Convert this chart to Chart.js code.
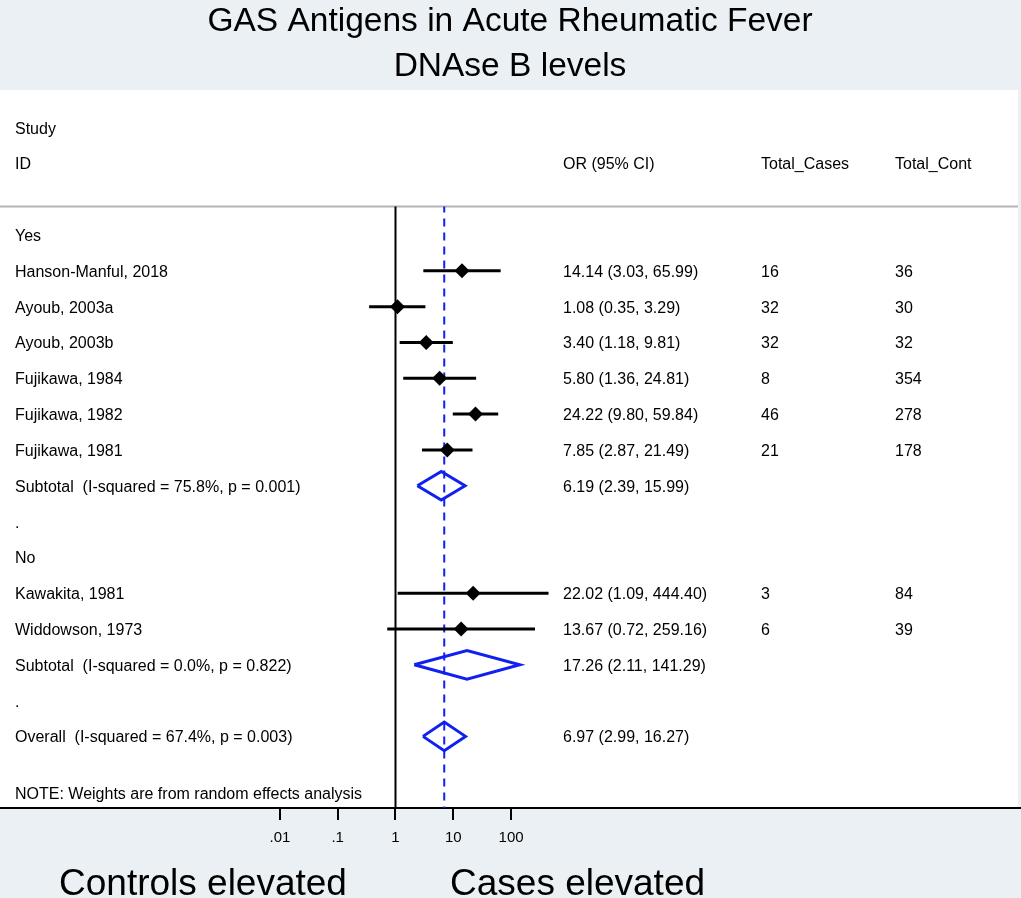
<!DOCTYPE html>
<html>
<head>
<meta charset="utf-8">
<title>GAS Antigens in Acute Rheumatic Fever - DNAse B levels</title>
<script src="https://cdn.jsdelivr.net/npm/chart.js@4/dist/chart.umd.min.js"></script>
<style>
  html, body { margin: 0; padding: 0; background: #eaf0f3; }
  #wrap { width: 1021px; height: 898px; }
</style>
</head>
<body>
<div id="wrap"><canvas id="forest" width="1021" height="898"></canvas></div>
<script>
    "use strict";

    // Studies (rows counted from the "Yes" group heading = 0)
    const studies = ['Hanson-Manful, 2018', 'Ayoub, 2003a', 'Ayoub, 2003b', 'Fujikawa, 1984',
        'Fujikawa, 1982', 'Fujikawa, 1981', 'Kawakita, 1981', 'Widdowson, 1973'];
    const studyRows = [1, 2, 3, 4, 5, 6, 10, 11];
    const oddsRatio = [14.14, 1.08, 3.40, 5.80, 24.22, 7.85, 22.02, 13.67];
    const ciLow = [3.03, 0.35, 1.18, 1.36, 9.80, 2.87, 1.09, 0.72];
    const ciHigh = [65.99, 3.29, 9.81, 24.81, 59.84, 21.49, 444.40, 259.16];
    const totalCases = [16, 32, 32, 8, 46, 21, 3, 6];
    const totalControls = [36, 30, 32, 354, 278, 178, 84, 39];

    // Pooled estimates (subtotals + overall)
    const pooledLabels = ['Subtotal  (I-squared = 75.8%, p = 0.001)',
        'Subtotal  (I-squared = 0.0%, p = 0.822)',
        'Overall  (I-squared = 67.4%, p = 0.003)'];
    const pooledRows = [7, 12, 14];
    const pooledOr = [6.19, 17.26, 6.97];
    const pooledLow = [2.39, 2.11, 2.99];
    const pooledHigh = [15.99, 141.29, 16.27];

    // Group headings and spacer rows
    const groupLabels = ['Yes', '.', 'No', '.'];
    const groupRows = [0, 8, 9, 13];

    // Axis ticks
    const tickValues = [0.01, 0.1, 1, 10, 100];
    const tickLabels = ['.01', '.1', '1', '10', '100'];

    const FONT = '"Liberation Sans", Arial, Helvetica, sans-serif';
    const BG = '#eaf0f3';
    const BLUE = '#1020f0';

    function fmt(v) { return v.toFixed(2); }

    let datasets = [];

    // point estimates (drawn on top, so first)
    datasets.push({
        type: 'scatter',
        data: oddsRatio.map((v, i) => ({ x: v, y: studyRows[i] })),
        pointStyle: 'rectRot',
        pointRadius: 7.5,
        pointBackgroundColor: '#000',
        pointBorderColor: '#000',
        pointBorderWidth: 0
    });

    // confidence interval lines
    studies.forEach(function (s, i) {
        datasets.push({
            type: 'line',
            data: [{ x: ciLow[i], y: studyRows[i] }, { x: ciHigh[i], y: studyRows[i] }],
            borderColor: '#000',
            borderWidth: 3,
            pointRadius: 0
        });
    });

    // pooled diamonds
    const halfH = 0.4;
    pooledOr.forEach(function (v, i) {
        let r = pooledRows[i];
        datasets.push({
            type: 'line',
            data: [
                { x: pooledLow[i], y: r },
                { x: v, y: r - halfH },
                { x: pooledHigh[i], y: r },
                { x: v, y: r + halfH },
                { x: pooledLow[i], y: r }
            ],
            borderColor: BLUE,
            borderWidth: 3,
            borderJoinStyle: 'miter',
            pointRadius: 0,
            tension: 0
        });
    });

    const lineTop = -0.8;   // just below the column headers
    const lineBottom = 16;

    // overall effect (dashed)
    datasets.push({
        type: 'line',
        data: [{ x: pooledOr[2], y: lineTop }, { x: pooledOr[2], y: lineBottom }],
        borderColor: BLUE,
        borderWidth: 2,
        borderDash: [8, 6],
        borderDashOffset: 2,
        pointRadius: 0
    });

    // line of no effect
    datasets.push({
        type: 'line',
        data: [{ x: 1, y: lineTop }, { x: 1, y: lineBottom }],
        borderColor: '#000',
        borderWidth: 2,
        pointRadius: 0
    });

    const backgroundPlugin = {
        id: 'background',
        beforeDraw(chart) {
            const ctx = chart.ctx, a = chart.chartArea;
            ctx.save();
            ctx.fillStyle = BG;
            ctx.fillRect(0, 0, chart.width, chart.height);
            ctx.fillStyle = '#fff';
            ctx.fillRect(0, a.top, a.right - 3, a.bottom - a.top);
            // separator under headers
            const yS = chart.scales.y.getPixelForValue(lineTop);
            ctx.strokeStyle = '#b4b4b4';
            ctx.lineWidth = 2;
            ctx.beginPath();
            ctx.moveTo(a.left, yS);
            ctx.lineTo(a.right - 3, yS);
            ctx.stroke();
            ctx.restore();
        }
    };

    const textPlugin = {
        id: 'texts',
        afterDraw(chart) {
            const ctx = chart.ctx, y = chart.scales.y;
            const colLabel = 15, colOr = 563, colCases = 761, colCont = 895;
            const off = 6;
            ctx.save();
            ctx.fillStyle = '#000';
            ctx.textBaseline = 'alphabetic';
            ctx.textAlign = 'left';
            ctx.font = '16px ' + FONT;

            function row(r) { return y.getPixelForValue(r) + off; }

            // headers
            ctx.fillText('Study', colLabel, row(-3));
            ctx.fillText('ID', colLabel, row(-2));
            ctx.fillText('OR (95% CI)', colOr, row(-2));
            ctx.fillText('Total_Cases', colCases, row(-2));
            ctx.fillText('Total_Cont', colCont, row(-2));

            groupLabels.forEach((g, i) => ctx.fillText(g, colLabel, row(groupRows[i])));

            studies.forEach(function (s, i) {
                const py = row(studyRows[i]);
                ctx.fillText(s, colLabel, py);
                ctx.fillText(fmt(oddsRatio[i]) + ' (' + fmt(ciLow[i]) + ', ' + fmt(ciHigh[i]) + ')', colOr, py);
                ctx.fillText(String(totalCases[i]), colCases, py);
                ctx.fillText(String(totalControls[i]), colCont, py);
            });

            pooledLabels.forEach(function (s, i) {
                const py = row(pooledRows[i]);
                ctx.fillText(s, colLabel, py);
                ctx.fillText(fmt(pooledOr[i]) + ' (' + fmt(pooledLow[i]) + ', ' + fmt(pooledHigh[i]) + ')', colOr, py);
            });

            ctx.fillText('NOTE: Weights are from random effects analysis', colLabel, row(15.58));

            // titles
            ctx.textAlign = 'center';
            ctx.font = '33.5px ' + FONT;
            ctx.fillText('GAS Antigens in Acute Rheumatic Fever', 510, 31);
            ctx.fillText('DNAse B levels', 510, 76);

            // direction labels
            ctx.textAlign = 'left';
            ctx.font = '37px ' + FONT;
            ctx.fillText('Controls elevated', 59, 895);
            ctx.fillText('Cases elevated', 450, 895);
            ctx.restore();
        }
    };

    const ctx = document.getElementById('forest');
    new Chart(ctx, {
        data: { datasets: datasets },
        options: {
            responsive: false,
            animation: false,
            events: [],
            layout: { autoPadding: false, padding: { top: 90, left: 0, right: 0, bottom: 0 } },
            plugins: {
                legend: { display: false },
                tooltip: { enabled: false },
                title: { display: false }
            },
            scales: {
                x: {
                    type: 'logarithmic',
                    position: 'bottom',
                    bounds: 'data',
                    min: Math.pow(10, -395.5 / 57.8),
                    max: Math.pow(10, (1021 - 395.5) / 57.8),
                    afterBuildTicks: function (s) {
                        s.ticks = tickValues.map(v => ({ value: v }));
                    },
                    afterFit: function (s) { s.height = 90; },
                    ticks: {
                        callback: (v, i) => tickLabels[i],
                        autoSkip: false,
                        maxRotation: 0,
                        minRotation: 0,
                        color: '#000',
                        padding: 9,
                        font: { family: FONT, size: 15 }
                    },
                    grid: {
                        drawOnChartArea: false,
                        drawTicks: true,
                        tickLength: 12,
                        color: '#000',
                        lineWidth: 2
                    },
                    border: { display: true, color: '#000', width: 2 }
                },
                y: {
                    type: 'linear',
                    reverse: true,
                    min: -4.05,
                    max: 16.0,
                    display: false
                }
            }
        },
        plugins: [backgroundPlugin, textPlugin]
    });
</script>
</body>
</html>
